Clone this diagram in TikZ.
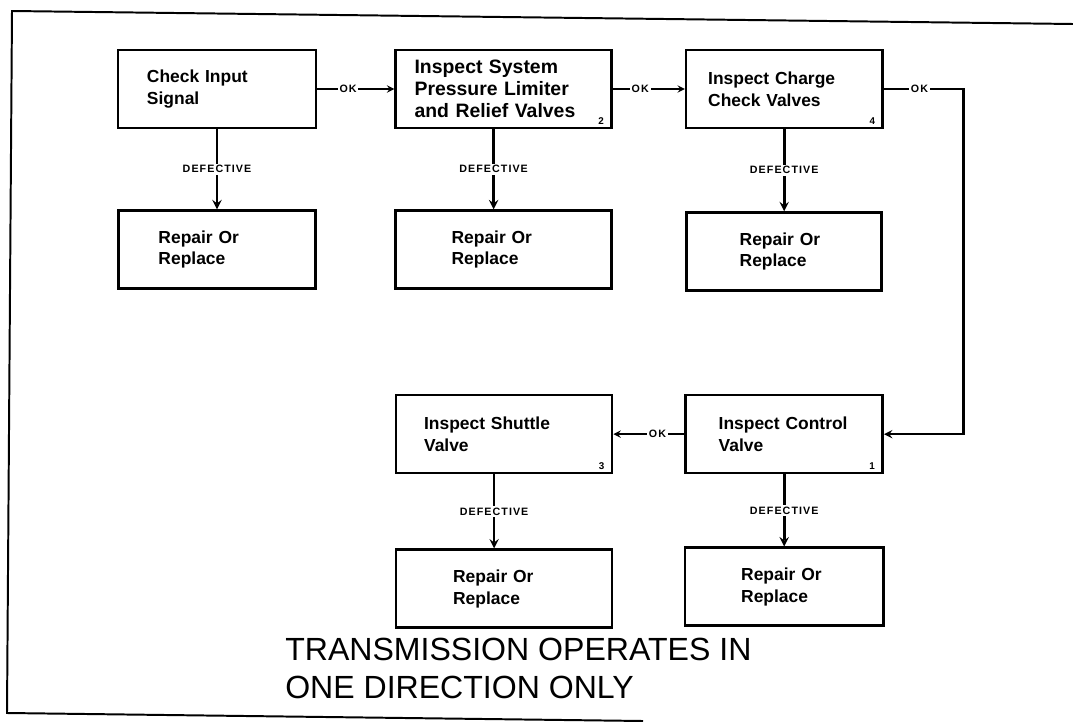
\documentclass[tikz,border=0pt]{standalone}
\usepackage{fontspec}
\setmainfont{Liberation Sans}
\newfontfamily\tagfont{Liberation Sans}[LetterSpace=10]
\usetikzlibrary{shapes,arrows,positioning}

\begin{document}
\begin{tikzpicture}[
    x=0.025cm, y=-0.025cm,
    box/.style 2 args={rectangle, draw, line width=1.8pt, fill=white, minimum height=1.95cm,
        text width=#1, inner xsep=#2, align=left, font=\bfseries\fontsize{12.4}{15.5}\selectfont},
    arrow/.style={->,>=stealth, line width=1.9pt},
    okarrow/.style={->,>=stealth, line width=1.3pt},
    defect/.style={fill=white, inner sep=1.2pt, font=\tagfont\bfseries\fontsize{7.6}{8}\selectfont},
    ok/.style={fill=white, inner sep=1.2pt, font=\tagfont\bfseries\fontsize{7.6}{8}\selectfont},
    tag/.style={inner sep=0pt, font=\bfseries\fontsize{7}{8}\selectfont}
]
    \useasboundingbox (0,0) rectangle (1073,723);
    % frame
    \draw[line width=1.4pt] (1073,24) -- (12,11) -- (7,713) -- (643,721);

    % upper row
    \node[box={3.5cm}{0.725cm}] (chk) at (217,89) {Check Input\\Signal};
    \node[box={4.45cm}{0.475cm}, right=1.925cm of chk, font=\bfseries\fontsize{13.8}{15.5}\selectfont] (press)
        {Inspect System\\Pressure Limiter\\and Relief Valves};
    \node[box={3.8cm}{0.55cm}, right=1.8cm of press] (charge) {Inspect Charge\\Check Valves};
    \node[box={2.925cm}{1cm}, below=2cm of chk] (rchk) {Repair Or\\Replace};
    \node[box={2.6cm}{1.4cm}, below=2cm of press] (rpress) {Repair Or\\Replace};
    \node[box={2.225cm}{1.325cm}, below=2.05cm of charge] (rcharge) {Repair Or\\Replace};

    % lower row
    \node[box={3.275cm}{0.825cm}, below=2.55cm of rcharge] (ctrl) {Inspect Control\\Valve};
    \node[box={4cm}{0.7cm}, left=1.775cm of ctrl] (shuttle) {Inspect Shuttle\\Valve};
    \node[box={2.15cm}{1.4cm}, below=1.8cm of ctrl] (rctrl) {Repair Or\\Replace};
    \node[box={2.55cm}{1.425cm}, below=1.85cm of shuttle] (rshut) {Repair Or\\Replace};

    % step numbers
    \node[tag, above left=0.12cm and 0.22cm of press.south east] (n2) {2};
    \node[tag, above left=0.12cm and 0.2cm of charge.south east] (n4) {4};
    \node[tag, above left=0.12cm and 0.22cm of ctrl.south east] (n1) {1};
    \node[tag, above left=0.12cm and 0.22cm of shuttle.south east] (n3) {3};

    \coordinate[right=2cm of charge.east] (bend);

    \draw[okarrow] (chk) -- node[ok, pos=0.4] {OK} (press);
    \draw[okarrow] (press) -- node[ok, pos=0.38] {OK} (charge);
    \draw[arrow, line width=1.6pt] (charge) -- node[ok, pos=0.45] {OK} (bend) |- (ctrl);
    \draw[okarrow] (ctrl) -- node[ok, pos=0.38] {OK} (shuttle);

    \draw[arrow] (chk) -- node[defect] {DEFECTIVE} (rchk);
    \draw[arrow] ([xshift=-0.25cm]press.south) -- node[defect] {DEFECTIVE} ([xshift=-0.25cm]rpress.north);
    \draw[arrow] (charge) -- node[defect] {DEFECTIVE} (rcharge);
    \draw[arrow] (ctrl) -- node[defect] {DEFECTIVE} (rctrl);
    \draw[arrow] ([xshift=-0.25cm]shuttle.south) -- node[defect] {DEFECTIVE} ([xshift=-0.25cm]rshut.north);

    \node[anchor=north west, inner sep=0pt, align=left, font=\fontsize{22.8}{27}\selectfont] (note)
        at (285,638) {TRANSMISSION OPERATES IN\\ONE DIRECTION ONLY};
\end{tikzpicture}
\end{document}
